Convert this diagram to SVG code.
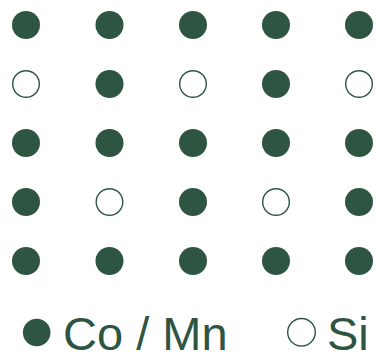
<svg xmlns="http://www.w3.org/2000/svg" width="376" height="357" viewBox="0 0 376 357">
<style>
.f{fill:#2e5542}
.o{fill:#fff;stroke:#2e5542;stroke-width:1.4}
text{font-family:"Liberation Sans",Arial,sans-serif;font-size:47px;fill:#2e5542}
</style>
<rect width="376" height="357" fill="#fff"/>
<g id="row1">
<circle class="f" cx="26" cy="25" r="14"/><circle class="f" cx="109.5" cy="25" r="14"/><circle class="f" cx="193" cy="25" r="14"/><circle class="f" cx="276" cy="25" r="14"/><circle class="f" cx="359" cy="25" r="14"/>
</g>
<g id="row2">
<circle class="o" cx="26" cy="84" r="13.3"/><circle class="f" cx="109.5" cy="84" r="14"/><circle class="o" cx="193" cy="84" r="13.3"/><circle class="f" cx="276" cy="84" r="14"/><circle class="o" cx="359" cy="84" r="13.3"/>
</g>
<g id="row3">
<circle class="f" cx="26" cy="143" r="14"/><circle class="f" cx="109.5" cy="143" r="14"/><circle class="f" cx="193" cy="143" r="14"/><circle class="f" cx="276" cy="143" r="14"/><circle class="f" cx="359" cy="143" r="14"/>
</g>
<g id="row4">
<circle class="f" cx="26" cy="202" r="14"/><circle class="o" cx="109.5" cy="202" r="13.3"/><circle class="f" cx="193" cy="202" r="14"/><circle class="o" cx="276" cy="202" r="13.3"/><circle class="f" cx="359" cy="202" r="14"/>
</g>
<g id="row5">
<circle class="f" cx="26" cy="261" r="14"/><circle class="f" cx="109.5" cy="261" r="14"/><circle class="f" cx="193" cy="261" r="14"/><circle class="f" cx="276" cy="261" r="14"/><circle class="f" cx="359" cy="261" r="14"/>
</g>
<g id="legend">
<circle class="f" cx="36.7" cy="332.5" r="13.8"/>
<text x="63" y="350">Co / Mn</text>
<circle class="o" cx="301.5" cy="332.3" r="13.8"/>
<text x="327" y="350">Si</text>
</g>
</svg>
